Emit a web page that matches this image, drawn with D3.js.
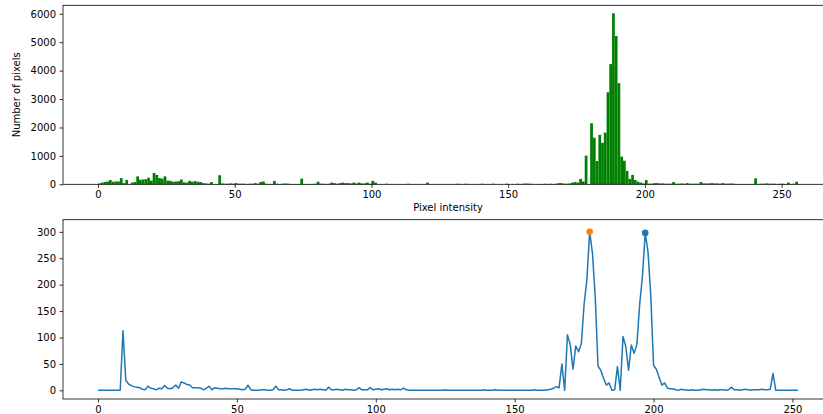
<!DOCTYPE html>
<html>
<head>
<meta charset="utf-8">
<script src="https://cdn.jsdelivr.net/npm/d3@7"></script>
<style>
  body { margin: 0; background: #fff; }
  svg { display: block; font-family: "DejaVu Sans", sans-serif; }
</style>
</head>
<body>
<svg id="chart" width="823" height="414"></svg>
<script>
// histogram counts, one per intensity bin 0..255
const histCounts = [
  30, 60, 80, 100, 150, 90, 100, 100, 220, 40, 150, 0, 60, 80, 280, 160,
  170, 180, 230, 130, 400, 330, 220, 200, 280, 130, 120, 90, 100, 110, 170, 70,
  60, 120, 90, 110, 90, 80, 40, 30, 20, 80, 0, 10, 320, 30, 20, 20,
  30, 20, 40, 20, 20, 20, 10, 20, 20, 40, 20, 80, 100, 20, 10, 10,
  120, 20, 10, 20, 30, 20, 10, 10, 10, 10, 200, 10, 10, 10, 10, 20,
  90, 20, 20, 10, 20, 60, 40, 20, 40, 60, 40, 40, 30, 60, 30, 60,
  30, 30, 60, 20, 120, 60, 0, 0, 0, 20, 0, 0, 0, 0, 0, 0,
  0, 20, 0, 0, 0, 0, 0, 0, 60, 0, 0, 0, 0, 0, 0, 0,
  0, 0, 0, 20, 0, 0, 20, 0, 0, 0, 0, 0, 20, 0, 0, 0,
  20, 0, 0, 0, 0, 20, 0, 0, 0, 20, 0, 20, 30, 20, 20, 0,
  0, 10, 10, 20, 10, 20, 10, 20, 40, 40, 20, 20, 30, 60, 80, 60,
  190, 100, 1010, 0, 2150, 1640, 820, 1740, 1460, 1820, 3240, 4230, 6020, 5220, 3560, 975,
  830, 470, 190, 330, 150, 90, 60, 30, 150, 20, 20, 40, 40, 30, 30, 20,
  20, 20, 80, 20, 20, 30, 20, 40, 20, 20, 20, 20, 80, 30, 30, 30,
  40, 30, 30, 20, 40, 20, 20, 30, 20, 10, 10, 10, 10, 10, 10, 10,
  210, 0, 20, 20, 30, 20, 20, 20, 10, 20, 20, 10, 60, 10, 20, 90
];

// lower panel series, index 0..252
const lineValues = [
  0, 0, 0, 0, 0, 0, 0, 0, 0,
  113,
  19, 12, 9, 7, 6, 5, 2, 1, 8, 4,
  3, 1, 4, 3, 9, 4, 3, 5, 10, 4,
  16, 14, 11, 10, 5, 5, 5, 4, 1, 4,
  8, 1, 5, 4, 3, 3, 4, 3, 3, 3,
  3, 2, 1, 2, 10, 1, 0, 0, 0, 1,
  1, 0, 0, 1, 8, 1, 1, 0, 1, 3,
  0, 0, 0, 0, 1, 2, 0, 1, 2, 1,
  2, 1, 0, 6, 1, 1, 2, 1, 0, 2,
  1, 1, 0, 1, 5, 1, 1, 1, 5, 1,
  2, 3, 1, 2, 3, 1, 2, 1, 2, 1,
  4, 1, 0, 0, 0, 0, 0, 0, 0, 0,
  0, 0, 0, 0, 0, 1, 0, 0, 0, 0,
  0, 0, 0, 0, 0, 0, 0, 0, 0, 1,
  0, 0, 0, 1, 0, 0, 0, 0, 0, 0,
  0, 0, 0, 0, 0, 0, 0, 1, 0, 0,
  0, 0, 1, 2, 4, 7, 5, 50, 0, 105,
  87, 40, 84, 73, 88, 163, 210, 300, 260, 178,
  46, 38, 23, 10, 14, 0, 1, 45, 0, 102,
  83, 38, 86, 70, 87, 163, 216, 298, 262, 180,
  47, 40, 25, 10, 14, 4, 3, 3, 1, 0,
  2, 1, 0, 0, 1, 0, 0, 1, 2, 1,
  1, 0, 1, 0, 1, 1, 0, 1, 6, 1,
  1, 0, 1, 2, 1, 0, 1, 1, 1, 2,
  1, 1, 2, 32, 0, 0, 0, 0, 0, 0,
  0, 0, 0
];

// the two marked peaks (index into lineValues) and their colours
const peakIdx = [197, 177];
const peakColors = ["#1f77b4", "#ff7f0e"];

const xTicks = [0, 50, 100, 150, 200, 250];
const histYTicks = [0, 1000, 2000, 3000, 4000, 5000, 6000];
const lineYTicks = [0, 50, 100, 150, 200, 250, 300];

const svg = d3.select("#chart");
const fontSize = "10px";
const fmt = d3.format("d");

//axes boxes (right edge falls outside the picture, like the reference)
const topBox = { left: 63, right: 833, top: 5.3, bottom: 184.3 };
const botBox = { left: 63, right: 833, top: 219.7, bottom: 399 };

const styleAxis = (g) => {
  g.select(".domain").remove();
  g.selectAll("line").attr("stroke", "#000").attr("stroke-width", 0.8);
  g.selectAll("text")
    .attr("fill", "#000")
    .style("font-size", fontSize)
    .style("font-family", "DejaVu Sans");
  g.attr("font-family", null).attr("font-size", null);
};

const drawFrame = (box) => {
  svg
    .append("rect")
    .attr("x", box.left)
    .attr("y", box.top)
    .attr("width", box.right - box.left)
    .attr("height", box.bottom - box.top)
    .attr("fill", "none")
    .attr("stroke", "#000")
    .attr("stroke-width", 0.8);
};

//Top panel: histogram
const xTop = d3.scaleLinear().domain([-12.8, 268.8]).range([topBox.left, topBox.right]);
const yTop = d3.scaleLinear().domain([0, 6300]).range([topBox.bottom, topBox.top]);

svg
  .append("g")
  .selectAll("rect")
  .data(histCounts)
  .enter()
  .append("rect")
  .attr("x", (d, i) => xTop(i))
  .attr("width", (d, i) => xTop(i + 1) - xTop(i))
  .attr("y", (d) => yTop(d))
  .attr("height", (d) => yTop(0) - yTop(d))
  .attr("fill", "#008000");

drawFrame(topBox);

svg
  .append("g")
  .attr("transform", `translate(0, ${topBox.bottom})`)
  .call(d3.axisBottom(xTop).tickValues(xTicks).tickFormat(fmt).tickSize(3.5).tickPadding(3.5).tickSizeOuter(0))
  .call(styleAxis);

svg
  .append("g")
  .attr("transform", `translate(${topBox.left}, 0)`)
  .call(d3.axisLeft(yTop).tickValues(histYTicks).tickFormat(fmt).tickSize(3.5).tickPadding(3.5).tickSizeOuter(0))
  .call(styleAxis);

svg
  .append("text")
  .attr("x", (topBox.left + topBox.right) / 2)
  .attr("y", 211)
  .attr("text-anchor", "middle")
  .style("font-size", fontSize)
  .text("Pixel intensity");

svg
  .append("text")
  .attr("transform", `translate(19.5, ${(topBox.top + topBox.bottom) / 2}) rotate(-90)`)
  .attr("text-anchor", "middle")
  .style("font-size", fontSize)
  .text("Number of pixels");

//Bottom panel: line with peak markers
const xBot = d3.scaleLinear().domain([-12.6, 264.6]).range([botBox.left, botBox.right]);
const yBot = d3.scaleLinear().domain([-16.4, 323]).range([botBox.bottom, botBox.top]);

const line = d3
  .line()
  .x((d, i) => xBot(i))
  .y((d) => yBot(d));

svg
  .append("path")
  .datum(lineValues)
  .attr("d", line)
  .attr("fill", "none")
  .attr("stroke", "#1f77b4")
  .attr("stroke-width", 1.5)
  .attr("stroke-linejoin", "round");

svg
  .append("g")
  .selectAll("circle")
  .data(peakIdx)
  .enter()
  .append("circle")
  .attr("cx", (d) => xBot(d))
  .attr("cy", (d) => yBot(lineValues[d]))
  .attr("r", 3.3)
  .attr("fill", (d, i) => peakColors[i]);

drawFrame(botBox);

svg
  .append("g")
  .attr("transform", `translate(0, ${botBox.bottom})`)
  .call(d3.axisBottom(xBot).tickValues(xTicks).tickFormat(fmt).tickSize(3.5).tickPadding(3.5).tickSizeOuter(0))
  .call(styleAxis);

svg
  .append("g")
  .attr("transform", `translate(${botBox.left}, 0)`)
  .call(d3.axisLeft(yBot).tickValues(lineYTicks).tickFormat(fmt).tickSize(3.5).tickPadding(3.5).tickSizeOuter(0))
  .call(styleAxis);
</script>
</body>
</html>
